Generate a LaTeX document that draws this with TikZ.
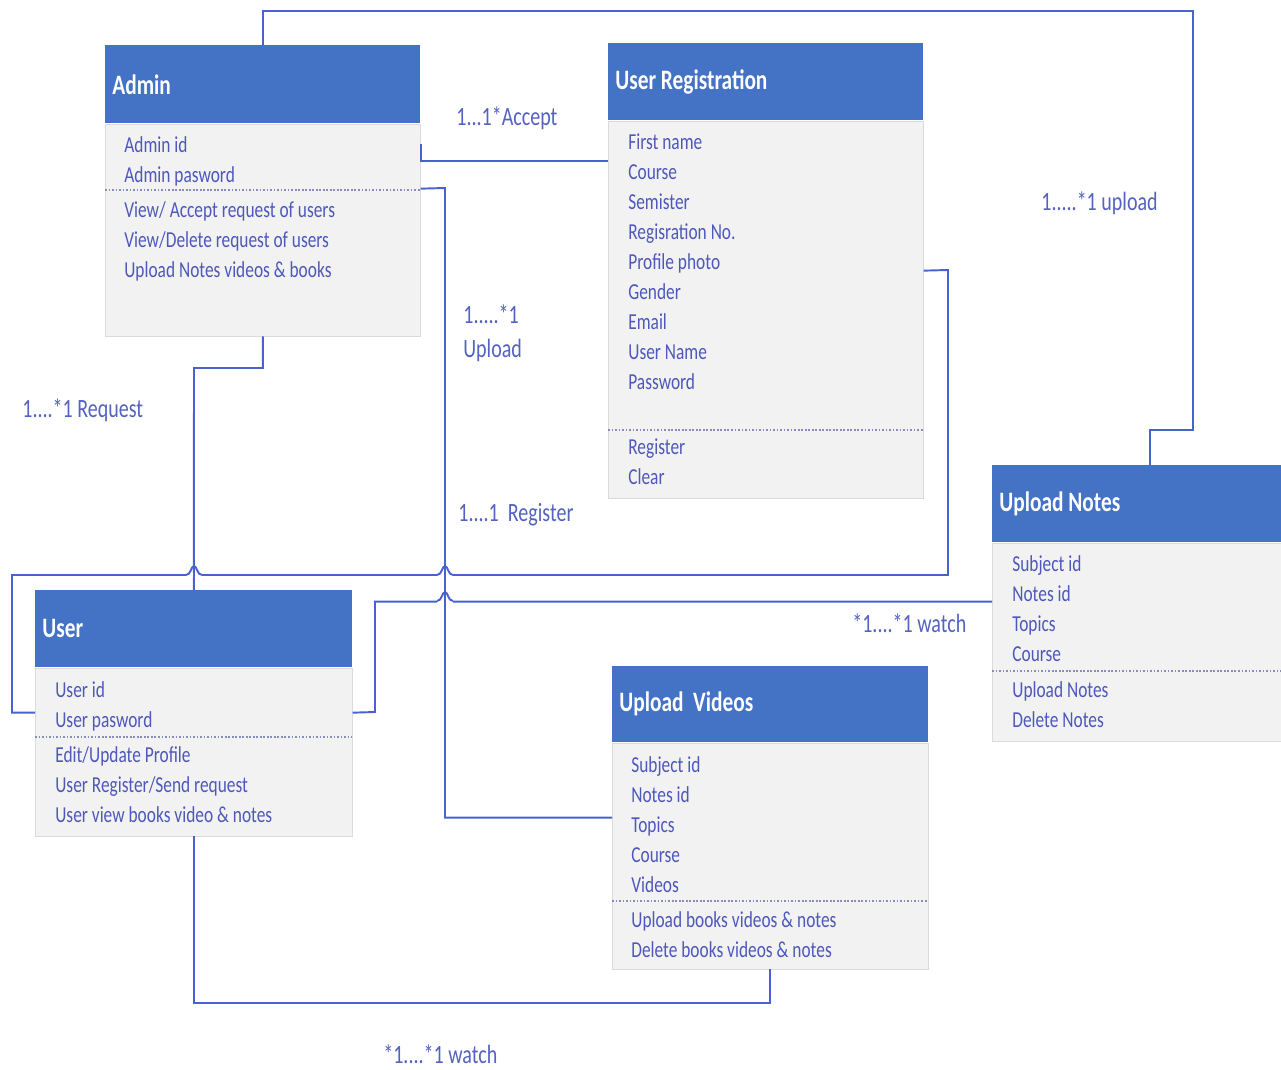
\documentclass[tikz,border=0pt]{standalone}
\usepackage{fontspec}
\setmainfont[FakeStretch=0.76]{Carlito}
\usetikzlibrary{positioning}
\definecolor{headblue}{HTML}{4472C4}
\definecolor{bodygray}{RGB}{242,242,243}
\definecolor{itemblue}{RGB}{78,88,186}
\definecolor{lblblue}{RGB}{84,98,192}
\definecolor{lineblue}{RGB}{72,98,208}
\definecolor{sepgray}{RGB}{135,140,185}

\begin{document}
\begin{tikzpicture}[x=0.02cm, y=-0.02cm,
  classhead/.style={fill=headblue, draw=none, inner sep=0pt, anchor=north west},
  classbody/.style={fill=bodygray, draw=black!14, inner sep=0pt},
  classname/.style={text=white, font=\fontsize{16}{18}\selectfont\bfseries, anchor=west, inner sep=0pt},
  member/.style={text=itemblue, font=\fontsize{13}{15}\selectfont, anchor=base west, inner sep=0pt},
  divider/.style={densely dotted, draw=sepgray, line width=1pt},
  link/.style={draw=lineblue, line width=1.1pt},
  mult/.style={text=lblblue, font=\fontsize{15}{19.5}\selectfont, inner sep=0pt, anchor=west, align=left}]

\fill[white] (0,0) rectangle (1281,1070);
\useasboundingbox (0,0) rectangle (1281,1070);

% Admin
\node[classhead, minimum width=6.3cm, minimum height=1.56cm] (admin-h) at (105,45) {};
\node[classbody, minimum width=6.3cm, minimum height=4.24cm, below=0pt of admin-h] (admin) {};
\node[classname] (admin-t) at ([xshift=0.14cm]admin-h.west) {Admin};
\foreach \t [count=\i] in {Admin id, Admin pasword}
  \node[member] (admin-a\i) at (124,123+30*\i) {\t};
\draw[divider] (105,190) -- (420,190);
\foreach \t [count=\i] in {View/ Accept request of users, View/Delete request of users, Upload Notes videos \& books}
  \node[member] (admin-m\i) at (124,188+30*\i) {\t};

% User Registration
\node[classhead, minimum width=6.3cm, minimum height=1.54cm] (ureg-h) at (608,43) {};
\node[classbody, minimum width=6.3cm, minimum height=7.54cm, below=0pt of ureg-h] (ureg) {};
\node[classname] (ureg-t) at ([xshift=0.14cm]ureg-h.west) {User Registration};
\foreach \t [count=\i] in {First name, Course, Semister, Regisration No., Profile photo, Gender, Email, User Name, Password}
  \node[member] (ureg-a\i) at (628,120+30*\i) {\t};
\draw[divider] (608,430) -- (923,430);
\foreach \t [count=\i] in {Register, Clear}
  \node[member] (ureg-m\i) at (628,425+30*\i) {\t};

% User
\node[classhead, minimum width=6.34cm, minimum height=1.54cm] (user-h) at (35,590) {};
\node[classbody, minimum width=6.34cm, minimum height=3.36cm, below=0pt of user-h] (user) {};
\node[classname] (user-t) at ([xshift=0.14cm]user-h.west) {User};
\foreach \t [count=\i] in {User id, User pasword}
  \node[member] (user-a\i) at (55,667+30*\i) {\t};
\draw[divider] (35,737) -- (352,737);
\foreach \t [count=\i] in {Edit/Update Profile, User Register/Send request, User view books video \& notes}
  \node[member] (user-m\i) at (55,732+30*\i) {\t};

% Upload Videos
\node[classhead, minimum width=6.32cm, minimum height=1.52cm] (uvid-h) at (612,666) {};
\node[classbody, minimum width=6.32cm, minimum height=4.52cm, below=0pt of uvid-h] (uvid) {};
\node[classname] (uvid-t) at ([xshift=0.14cm]uvid-h.west) {Upload\ \ Videos};
\foreach \t [count=\i] in {Subject id, Notes id, Topics, Course, Videos}
  \node[member] (uvid-a\i) at (631,742+30*\i) {\t};
\draw[divider] (612,901) -- (928,901);
\foreach \t [count=\i] in {Upload books videos \& notes, Delete books videos \& notes}
  \node[member] (uvid-m\i) at (631,897+30*\i) {\t};

% Upload Notes
\node[classhead, minimum width=5.86cm, minimum height=1.54cm] (notes-h) at (992,465) {};
\node[classbody, minimum width=5.86cm, minimum height=3.96cm, below=0pt of notes-h] (notes) {};
\node[classname] (notes-t) at ([xshift=0.14cm]notes-h.west) {Upload Notes};
\foreach \t [count=\i] in {Subject id, Notes id, Topics, Course}
  \node[member] (notes-a\i) at (1012,542+30*\i) {\t};
\draw[divider] (992,671) -- (1285,671);
\foreach \t [count=\i] in {Upload Notes, Delete Notes}
  \node[member] (notes-m\i) at (1012,667+30*\i) {\t};

% links
\draw[link] (admin-h.north) |- (1193,11) -- (1193,430) -| ([xshift=3.16cm]notes-h.north west);
\draw[link] ([yshift=-0.4cm]admin-h.south east) |- ([yshift=-0.8cm]ureg-h.south west);
\draw[link] ([yshift=-1.3cm]admin-h.south east) -- (445,188) |- ([yshift=-1.5cm]uvid-h.south west);
\draw[link] (admin.south) |- (194,368) -- (user-h.north);
\draw[link] ([yshift=-3cm]ureg-h.south east) -- (948,270) |- (12,575) |- ([yshift=-0.9cm]user-h.south west);
\draw[link] ([yshift=-0.9cm]user-h.south east) -- (375,712) |- ([yshift=-1.18cm]notes-h.south west);
\draw[link] (user.south) -- ++(0,167) -| (uvid.south);

% line jumps
\foreach \hx/\hy in {194/575, 445/575, 445/601}{
  \fill[white] (\hx-8,\hy-2) rectangle (\hx+8,\hy+2);
  \draw[link] (\hx-8,\hy) .. controls (\hx-3,\hy) and (\hx-3,\hy-9) .. (\hx,\hy-9)
    .. controls (\hx+3,\hy-9) and (\hx+3,\hy) .. (\hx+8,\hy);
  \draw[link] (\hx,\hy-12) -- (\hx,\hy+4);
}

\node[mult] (accept) at (456,118) {1...1*Accept};
\node[mult] (upload) at (463,333) {1.....*1\\Upload};
\node[mult] (upnotes) at (1041,203) {1.....*1 upload};
\node[mult] (request) at (22,410) {1....*1 Request};
\node[mult] (register) at (458,515) {1....1\ \ Register};
\node[mult] (watchn) at (852,623) {*1....*1 watch};
\node[mult] (watchv) at (383,1054) {*1....*1 watch};

\end{tikzpicture}
\end{document}
